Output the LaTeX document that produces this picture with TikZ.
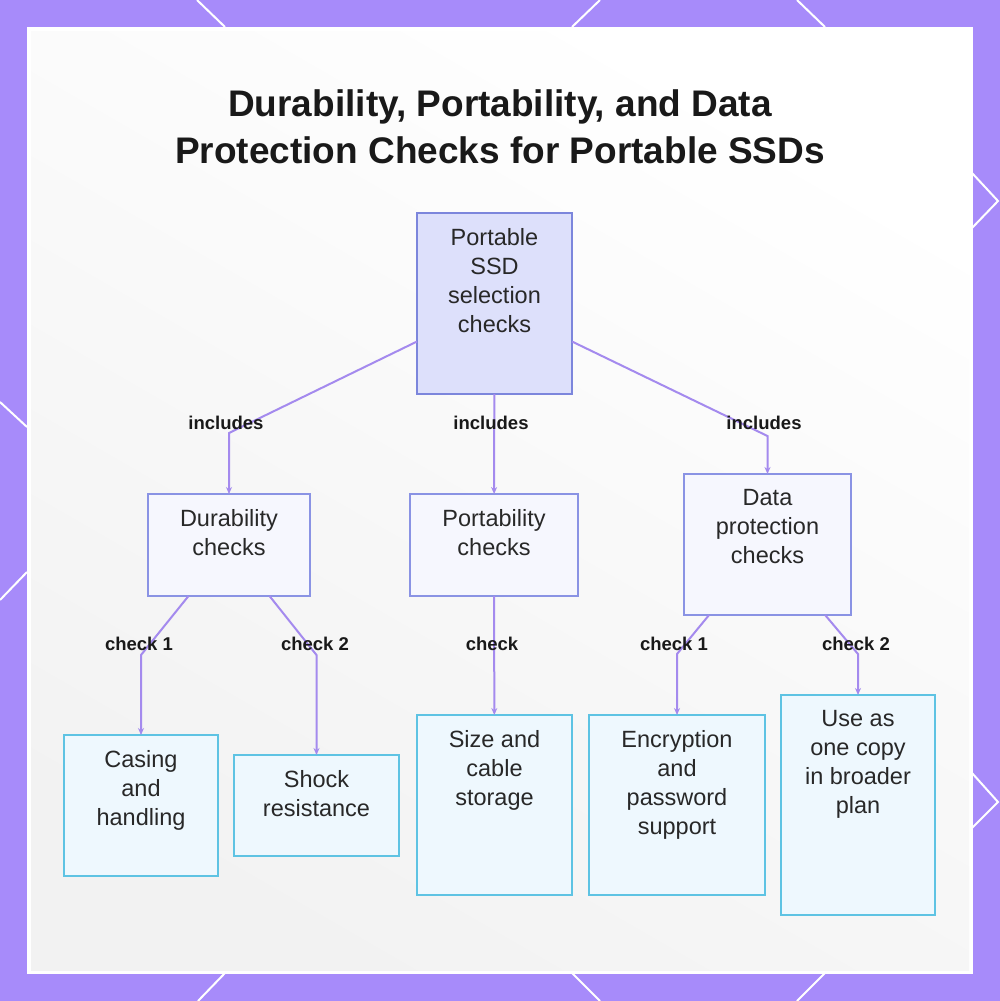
\documentclass[tikz,border=0pt]{standalone}
\usepackage{fontspec}
\setmainfont{Liberation Sans}
\usetikzlibrary{arrows.meta,calc}
\definecolor{frame}{RGB}{167,139,250}
\definecolor{edgec}{RGB}{164,138,238}
\definecolor{rootfill}{RGB}{221,224,251}
\definecolor{rootdraw}{RGB}{124,134,220}
\definecolor{midfill}{RGB}{246,247,254}
\definecolor{middraw}{RGB}{138,147,228}
\definecolor{leaffill}{RGB}{238,248,254}
\definecolor{leafdraw}{RGB}{94,195,227}
\definecolor{txtc}{RGB}{40,40,40}
\definecolor{lblc}{RGB}{25,25,25}
\tikzset{
  box/.style={draw, line width=2pt, inner sep=0pt, outer sep=0pt},
  rootbox/.style={box, fill=rootfill, draw=rootdraw},
  midbox/.style={box, fill=midfill, draw=middraw},
  leafbox/.style={box, fill=leaffill, draw=leafdraw},
  boxtext/.style={anchor=north, inner sep=0pt, align=center, text=txtc, font=\fontsize{23.5}{29}\selectfont},
  lbl/.style={inner sep=0pt, text=lblc, font=\fontsize{18.5}{22}\selectfont\bfseries},
  titletext/.style={anchor=base, inner sep=0pt, text=lblc, font=\fontsize{37}{47}\selectfont\bfseries},
  edge/.style={draw=edgec, line width=2pt, -{Stealth[length=7pt,width=6pt]}},
  deco/.style={draw=white, line width=2pt}
}
\begin{document}
\begin{tikzpicture}[x=1pt,y=-1pt]
\useasboundingbox (0,0) rectangle (1000,1001);
% frame
\fill[frame] (0,0) rectangle (1000,1001);
\draw[deco] (197,0) -- (225,27);
\draw[deco] (600,0) -- (572,27);
\draw[deco] (797,0) -- (825,27);
\draw[deco] (0,402) -- (27,427);
\draw[deco] (27,572) -- (0,600);
\draw[deco] (972,173) -- (998,201) -- (972,228);
\draw[deco] (972,773) -- (998,802) -- (972,828);
\draw[deco] (225,973) -- (198,1001);
\draw[deco] (572,973) -- (600,1001);
\draw[deco] (825,973) -- (797,1001);
% inner panel
\fill[white] (27,27) rectangle (973,974);
\shade[shading=axis, top color=white, bottom color=black!5, shading angle=-30] (31,31) rectangle (969,970);
% title
\node[titletext] (t1) at (500,116) {Durability, Portability, and Data};
\node[titletext] (t2) at (500,163) {Protection Checks for Portable SSDs};
% boxes
\node[rootbox, minimum width=155pt, minimum height=181pt] (root) at (494.5,303.5) {};
\node[midbox, minimum width=162pt, minimum height=102pt] (dur) at (229,545) {};
\node[midbox, minimum width=168pt, minimum height=102pt] (por) at (494,545) {};
\node[midbox, minimum width=167pt, minimum height=141pt] (dat) at (767.5,544.5) {};
\node[leafbox, minimum width=154pt, minimum height=141pt] (cas) at (141,805.5) {};
\node[leafbox, minimum width=165pt, minimum height=101pt] (sho) at (316.5,805.5) {};
\node[leafbox, minimum width=155pt, minimum height=180pt] (siz) at (494.5,805) {};
\node[leafbox, minimum width=176pt, minimum height=180pt] (enc) at (677,805) {};
\node[leafbox, minimum width=154pt, minimum height=220pt] (use) at (858,805) {};
% box texts
\node[boxtext] (rootT) at ([yshift=-15pt]root.north) {Portable\\SSD\\selection\\checks};
\node[boxtext] (durT) at ([yshift=-15pt]dur.north) {Durability\\checks};
\node[boxtext] (porT) at ([yshift=-15pt]por.north) {Portability\\checks};
\node[boxtext] (datT) at ([yshift=-15pt]dat.north) {Data\\protection\\checks};
\node[boxtext] (casT) at ([yshift=-15pt]cas.north) {Casing\\and\\handling};
\node[boxtext] (shoT) at ([yshift=-15pt]sho.north) {Shock\\resistance};
\node[boxtext] (sizT) at ([yshift=-15pt]siz.north) {Size and\\cable\\storage};
\node[boxtext] (encT) at ([yshift=-15pt]enc.north) {Encryption\\and\\password\\support};
\node[boxtext] (useT) at ([yshift=-15pt]use.north) {Use as\\one copy\\in broader\\plan};
% bend points
\coordinate (bA) at (229,433);
\coordinate (bC) at (767.5,436);
\coordinate (bD1) at (141,655);
\coordinate (bD2) at (316.5,655);
\coordinate (bP1) at (677,654);
\coordinate (bP2) at (858,654);
% edges
\draw[edge] ($(root.north west)!0.71!(root.south west)$) -- (bA) -- (dur);
\draw[edge] (root) -- (por);
\draw[edge] ($(root.north east)!0.71!(root.south east)$) -- (bC) -- (dat);
\draw[edge] ($(dur.south west)!0.25!(dur.south east)$) -- (bD1) -- (cas);
\draw[edge] ($(dur.south west)!0.75!(dur.south east)$) -- (bD2) -- (sho);
\draw[edge] (por) -- (siz);
\draw[edge] ($(dat.south west)!0.15!(dat.south east)$) -- (bP1) -- (enc);
\draw[edge] ($(dat.south west)!0.845!(dat.south east)$) -- (bP2) -- (use);
% labels
\node[lbl] (l1) at (226,423) {includes};
\node[lbl] (l2) at (491,423) {includes};
\node[lbl] (l3) at (764,423) {includes};
\node[lbl] (l4) at (139,644) {check 1};
\node[lbl] (l5) at (315,644) {check 2};
\node[lbl] (l6) at (492,644) {check};
\node[lbl] (l7) at (674,644) {check 1};
\node[lbl] (l8) at (856,644) {check 2};
\end{tikzpicture}
\end{document}
